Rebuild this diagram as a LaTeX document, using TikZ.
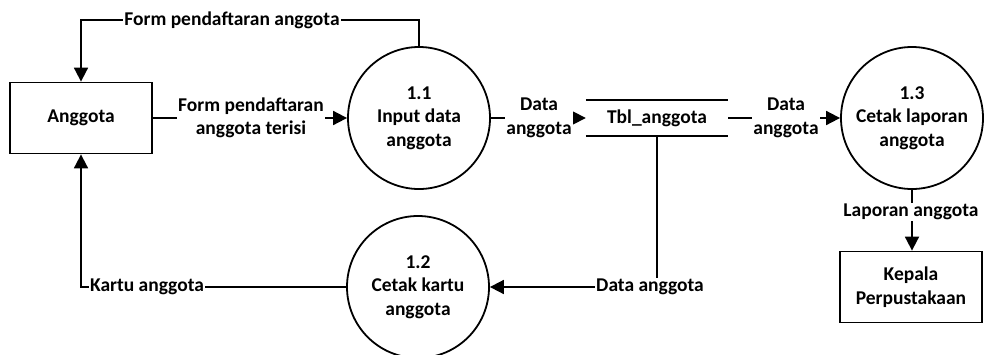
\documentclass[tikz,border=0pt]{standalone}
\usepackage{fontspec}
\setmainfont{Carlito}
\usetikzlibrary{arrows.meta}
\begin{document}
\begin{tikzpicture}[x=1pt,y=-1pt,
 every node/.style={font=\bfseries\fontsize{19.5}{23.5}\selectfont, align=center},
 proc/.style={draw, circle, line width=1.8pt, minimum size=142pt, inner sep=0pt},
 ent/.style={draw, rectangle, line width=1.8pt, minimum width=142pt, minimum height=71pt, inner sep=0pt},
 store/.style={minimum width=142pt, minimum height=36pt, inner sep=0pt},
 flow/.style={line width=1.8pt, -{Triangle[length=14pt,width=14pt]}},
 lbl/.style={fill=white, inner sep=1pt}]
\useasboundingbox (0,0) rectangle (986,354);
\node[ent] (ang) at (81,118) {Anggota};
\node[proc] (p11) at (419,118) {1.1\\Input data\\anggota};
\node[proc] (p12) at (418,287) {1.2\\Cetak kartu\\anggota};
\node[proc] (p13) at (912,118) {1.3\\Cetak laporan\\anggota};
\node[store] (tbl) at (657,118) {Tbl\_anggota};
\draw[line width=1.8pt] (tbl.north west) -- (tbl.north east) (tbl.south west) -- (tbl.south east);
\node[ent] (kep) at (911,287) {Kepala\\Perpustakaan};
\coordinate (top) at (419,20);
\draw[flow] (p11.north) -- (top) -| (ang.north);
\draw[flow] (ang.east) -- (p11.west);
\draw[flow] (p11.east) -- (tbl.west);
\draw[flow] (tbl.east) -- (p13.west);
\draw[flow] (p13.south) -- (p13.south |- kep.north);
\draw[flow] (tbl.south) |- (p12.east);
\draw[flow] (p12.west) -| (ang.south);
\node[lbl] (l1) at (232,20) {Form pendaftaran anggota};
\node[lbl] (l2) at (251,118) {Form pendaftaran\\anggota terisi};
\node[lbl] (l3) at (539,118) {Data\\anggota};
\node[lbl] (l4) at (786,118) {Data\\anggota};
\node[lbl] (l5) at (911,212) {Laporan anggota};
\node[lbl] (l6) at (650,287) {Data anggota};
\node[lbl] (l7) at (147,287) {Kartu anggota};
\end{tikzpicture}
\end{document}
